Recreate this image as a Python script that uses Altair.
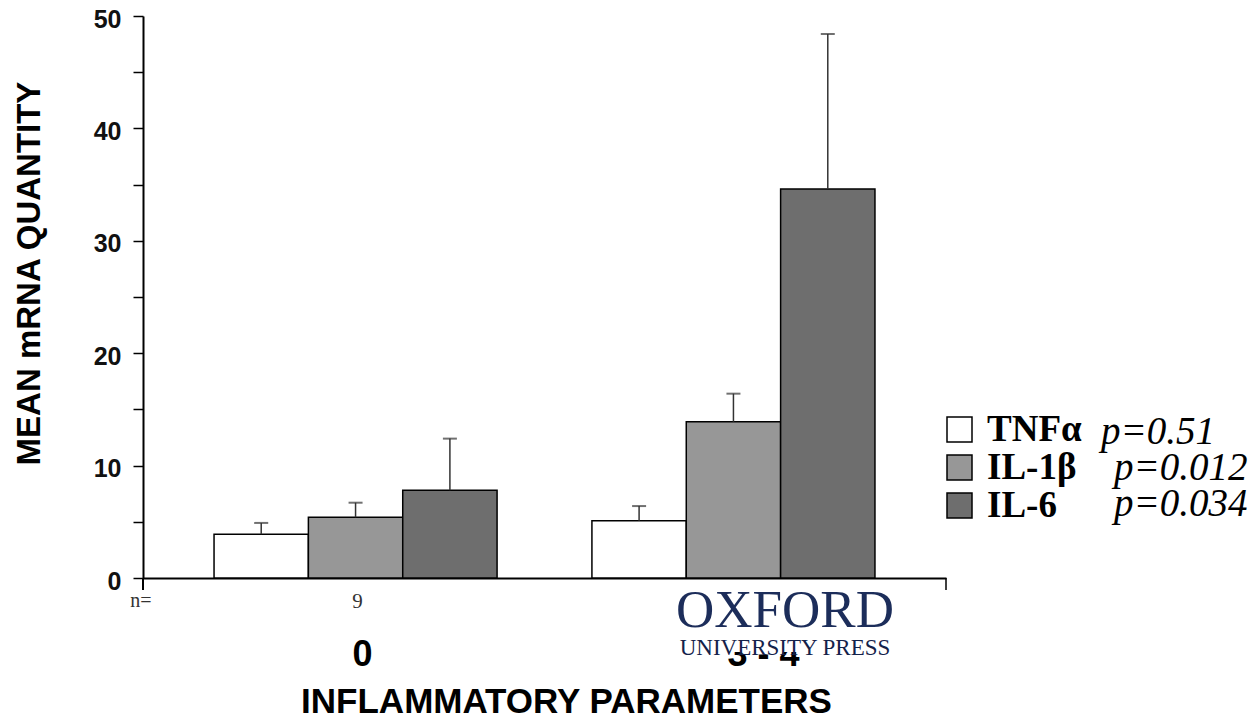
import altair as alt
import pandas as pd

# ---- data ----
groups = ["0", "3 - 4"]
cytokines = ["TNFα", "IL-1β", "IL-6"]
mean_g0 = [3.9, 5.4, 7.8]
mean_g34 = [5.1, 13.9, 34.6]
upper_g0 = [4.9, 6.7, 12.4]
upper_g34 = [6.4, 16.4, 48.4]
p_values = ["p=0.51", "p=0.012", "p=0.034"]
n_group = ["0"]
n_values = ["9"]
fills = ["#ffffff", "#979797", "#6e6e6e"]

rows = []
for g, means, ups in [(groups[0], mean_g0, upper_g0), (groups[1], mean_g34, upper_g34)]:
    for c, m, u in zip(cytokines, means, ups):
        rows.append({"group": g, "cytokine": c, "mean": m, "upper": u})
df = pd.DataFrame(rows)
n_df = pd.DataFrame({"group": n_group, "n": n_values})

W, H = 803, 562
NAVY = "#1c2d5a"

xscale = alt.Scale(domain=groups, paddingInner=0.251, paddingOuter=0.188)
xoff_scale = alt.Scale(domain=cytokines, paddingInner=0, paddingOuter=0)
yscale = alt.Scale(domain=[0, 50], nice=False)

x_enc = alt.X(
    "group:N", scale=xscale, sort=groups,
    axis=alt.Axis(
        title="INFLAMMATORY PARAMETERS", ticks=False, labelAngle=0,
        labelFont="Liberation Sans", labelFontSize=36, labelFontWeight="bold",
        labelColor="black", labelBaseline="alphabetic", labelPadding=87,
        labelOffset={"condition": {"test": "datum.value == '3 - 4'", "value": 30}, "value": 7},
        domainColor="black", domainWidth=2,
        titleFont="Liberation Sans", titleFontSize=35, titleFontWeight="bold",
        titleColor="black", titleX=423, titleY=134, titleBaseline="alphabetic",
        titleAlign="center",
    ),
)
xoff_enc = alt.XOffset("cytokine:N", scale=xoff_scale, sort=cytokines)
y_enc = alt.Y(
    "mean:Q", scale=yscale,
    axis=alt.Axis(
        title="MEAN mRNA QUANTITY", values=list(range(0, 51, 5)),
        labelExpr="datum.value % 10 == 0 ? datum.label : ''",
        tickSize=10, tickColor="black", tickWidth=1.5,
        labelFont="Liberation Sans", labelFontSize=25, labelFontWeight="bold",
        labelColor="#111111", labelPadding=12, labelOffset=3,
        domainColor="black", domainWidth=2, grid=False,
        titleFont="Liberation Sans", titleFontSize=33, titleFontWeight="bold",
        titleColor="black", titleX=-114, titleY=257, titleAngle=270,
        titleBaseline="middle", titleAlign="center",
    ),
)

bars = alt.Chart(df).mark_bar(stroke="black", strokeWidth=1.5).encode(
    x=x_enc, xOffset=xoff_enc, y=y_enc,
    color=alt.Color(
        "cytokine:N", sort=cytokines,
        scale=alt.Scale(domain=cytokines, range=fills),
        legend=alt.Legend(
            title=None, orient="none", legendX=798, legendY=395,
            symbolType="square", symbolSize=625, symbolStrokeColor="black",
            symbolStrokeWidth=1.5, labelFont="Liberation Serif", labelFontSize=37,
            labelFontWeight="bold", labelColor="black", labelOffset=9,
            rowPadding=0, padding=0,
        ),
    ),
)

err_rule = alt.Chart(df).mark_rule(color="#333333", strokeWidth=1.5).encode(
    x="group:N", xOffset=xoff_enc, y="mean:Q", y2="upper:Q"
)
err_cap = alt.Chart(df).mark_tick(color="#333333", thickness=2, size=14).encode(
    x="group:N", xOffset=xoff_enc, y="upper:Q"
)

# axis end ticks
end_tick = alt.Chart(pd.DataFrame({"k": [1]})).mark_rule(color="black", strokeWidth=1.5).encode(
    x=alt.value(W), y=alt.value(H), y2=alt.value(H + 12)
)
yaxis_ext = alt.Chart(pd.DataFrame({"k": [1]})).mark_rule(color="black", strokeWidth=2).encode(
    x=alt.value(0), y=alt.value(H), y2=alt.value(H + 12)
)

# n= row
n_label = alt.Chart(pd.DataFrame({"t": ["n="]})).mark_text(
    font="Liberation Serif", fontSize=20, color="#333333", baseline="alphabetic"
).encode(x=alt.value(-2), y=alt.value(591), text="t:N")
n_vals = alt.Chart(n_df).mark_text(
    font="Liberation Serif", fontSize=21, color="#333333", baseline="alphabetic", dx=2
).encode(x="group:N", y=alt.value(592), text="n:N")

# p-values next to the legend
p_layers = []
for txt, px, py in zip(p_values, [958, 971, 971], [416, 452, 488]):
    p_layers.append(
        alt.Chart(pd.DataFrame({"t": [txt]})).mark_text(
            font="Liberation Serif", fontSize=39, fontStyle="italic",
            color="black", align="left", baseline="middle",
        ).encode(x=alt.value(px), y=alt.value(py), text="t:N")
    )

# publisher watermark
logo_bg = alt.Chart(pd.DataFrame({"k": [1]})).mark_rect(color="white").encode(
    x=alt.value(529), x2=alt.value(756), y=alt.value(566), y2=alt.value(636)
)
logo_main = alt.Chart(pd.DataFrame({"t": ["OXFORD"]})).mark_text(
    font="Liberation Serif", fontSize=53, color=NAVY, align="center", baseline="alphabetic"
).encode(x=alt.value(642), y=alt.value(611), text="t:N")
logo_sub = alt.Chart(pd.DataFrame({"t": ["UNIVERSITY PRESS"]})).mark_text(
    font="Liberation Serif", fontSize=23, color="#14224a", align="center", baseline="alphabetic"
).encode(x=alt.value(642), y=alt.value(639), text="t:N")

chart = alt.layer(
    bars, err_rule, err_cap, end_tick, yaxis_ext, n_label, n_vals,
    *p_layers, logo_bg, logo_main, logo_sub,
).properties(
    width=W, height=H,
    background="white",
    autosize=alt.AutoSizeParams(type="none"),
    padding={"left": 135, "top": 8, "right": 305, "bottom": 135},
).configure_view(stroke=None)

chart.save("out.html", embed_options={"renderer": "svg", "actions": False})
